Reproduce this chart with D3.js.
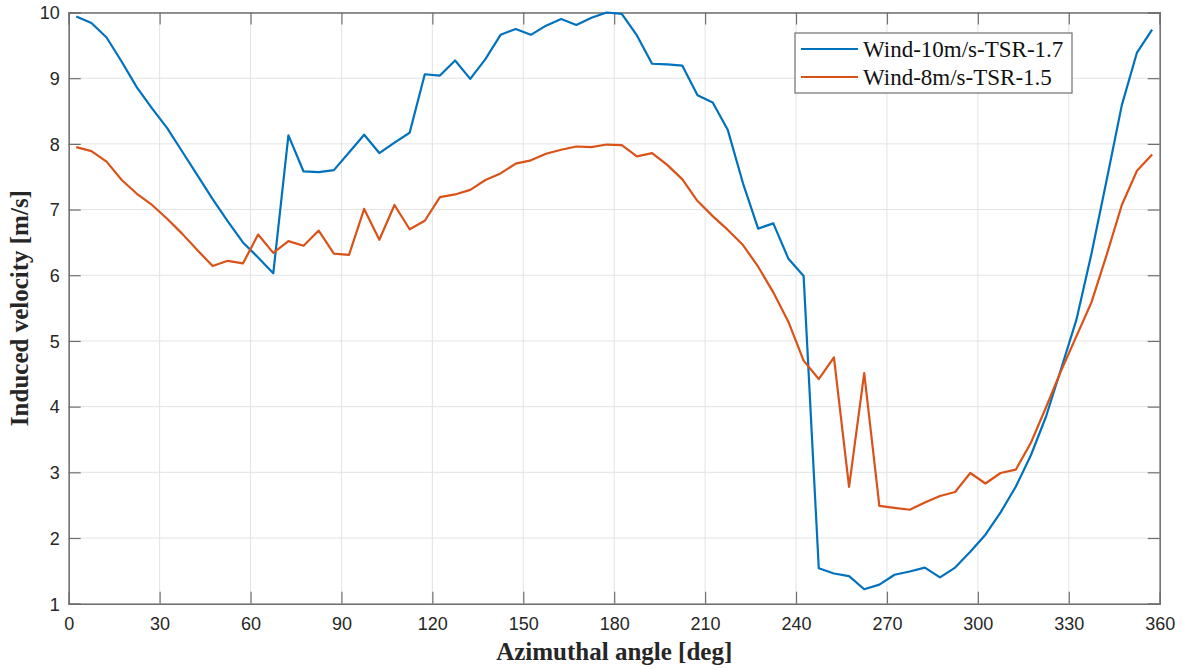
<!DOCTYPE html>
<html>
<head>
<meta charset="utf-8">
<title>Induced velocity</title>
<script src="https://d3js.org/d3.v7.min.js"></script>
<style type="text/css">
  body { margin: 0; background: white; }
  #chart { position: absolute; top: 0; left: 0; }
</style>
</head>
<body>
<div id="chart"></div>
<script type="text/javascript">

var angles = [2.5, 7.5, 12.5, 17.5, 22.5, 27.5, 32.5, 37.5, 42.5, 47.5, 52.5, 57.5,
              62.5, 67.5, 72.5, 77.5, 82.5, 87.5, 92.5, 97.5, 102.5, 107.5, 112.5, 117.5,
              122.5, 127.5, 132.5, 137.5, 142.5, 147.5, 152.5, 157.5, 162.5, 167.5, 172.5, 177.5,
              182.5, 187.5, 192.5, 197.5, 202.5, 207.5, 212.5, 217.5, 222.5, 227.5, 232.5, 237.5,
              242.5, 247.5, 252.5, 257.5, 262.5, 267.5, 272.5, 277.5, 282.5, 287.5, 292.5, 297.5,
              302.5, 307.5, 312.5, 317.5, 322.5, 327.5, 332.5, 337.5, 342.5, 347.5, 352.5, 357.5];

var wind10 = [9.94, 9.84, 9.62, 9.25, 8.86, 8.54, 8.24, 7.88, 7.52, 7.16, 6.82, 6.50,
              6.27, 6.03, 8.13, 7.58, 7.57, 7.60, 7.87, 8.14, 7.86, 8.02, 8.17, 9.06,
              9.04, 9.27, 8.99, 9.29, 9.66, 9.75, 9.66, 9.80, 9.90, 9.81, 9.92, 10.0,
              9.98, 9.65, 9.22, 9.21, 9.19, 8.74, 8.63, 8.21, 7.40, 6.71, 6.79, 6.25,
              5.99, 1.54, 1.46, 1.42, 1.22, 1.29, 1.44, 1.49, 1.55, 1.40, 1.55, 1.79,
              2.05, 2.39, 2.78, 3.26, 3.85, 4.58, 5.32, 6.33, 7.45, 8.59, 9.39, 9.74];

var wind8 = [7.95, 7.89, 7.73, 7.45, 7.24, 7.07, 6.86, 6.63, 6.38, 6.14, 6.22, 6.18,
             6.62, 6.34, 6.52, 6.45, 6.68, 6.33, 6.31, 7.01, 6.54, 7.07, 6.70, 6.83,
             7.19, 7.23, 7.30, 7.45, 7.55, 7.70, 7.75, 7.85, 7.91, 7.96, 7.95, 7.99,
             7.98, 7.81, 7.86, 7.68, 7.46, 7.13, 6.90, 6.69, 6.46, 6.13, 5.74, 5.29,
             4.70, 4.42, 4.75, 2.78, 4.51, 2.49, 2.46, 2.43, 2.54, 2.64, 2.70, 2.99,
             2.83, 2.99, 3.04, 3.45, 3.99, 4.55, 5.07, 5.59, 6.31, 7.07, 7.59, 7.84];

var seriesNames = ["Wind-10m/s-TSR-1.7", "Wind-8m/s-TSR-1.5"];
var seriesColors = ["#0072BD", "#D95319"];
var xTicks = [0, 30, 60, 90, 120, 150, 180, 210, 240, 270, 300, 330, 360];
var yTicks = [1, 2, 3, 4, 5, 6, 7, 8, 9, 10];

var width = 1183,
    height = 669;

var margin = {top: 12.5, right: 23.3, bottom: 65.3, left: 68.7};
var w = width - margin.left - margin.right,
    h = height - margin.top - margin.bottom;

var svg = d3.select("#chart")
            .append("svg")
            .attr("width", width)
            .attr("height", height);

var g = svg.append("g")
           .attr("transform", "translate(" + margin.left + "," + margin.top + ")");

var x = d3.scaleLinear().domain([0, 360]).range([0, w]);
var y = d3.scaleLinear().domain([1, 10]).range([h, 0]);

// grid
g.append("g").selectAll("line")
 .data(xTicks).enter().append("line")
 .attr("x1", function(d){ return x(d) }).attr("x2", function(d){ return x(d) })
 .attr("y1", 0).attr("y2", h)
 .attr("stroke", "#e3e3e3").attr("stroke-width", 1);

g.append("g").selectAll("line")
 .data(yTicks).enter().append("line")
 .attr("y1", function(d){ return y(d) }).attr("y2", function(d){ return y(d) })
 .attr("x1", 0).attr("x2", w)
 .attr("stroke", "#e3e3e3").attr("stroke-width", 1);

// axes, ticks pointing inward
var axisColor = "#707070";

var xAxis = g.append("g")
             .attr("transform", "translate(0," + h + ")")
             .call(d3.axisBottom(x).tickValues(xTicks).tickSize(-12).tickPadding(14));
var xTop = g.append("g")
            .call(d3.axisTop(x).tickValues(xTicks).tickSize(-12).tickFormat(""));
var yAxis = g.append("g")
             .call(d3.axisLeft(y).tickValues(yTicks).tickSize(-12).tickPadding(9));
var yRight = g.append("g")
              .attr("transform", "translate(" + w + ",0)")
              .call(d3.axisRight(y).tickValues(yTicks).tickSize(-12).tickFormat(""));

[xAxis, xTop, yAxis, yRight].forEach(function(a){
  a.select(".domain").attr("stroke", axisColor).attr("stroke-width", 1.5);
  a.selectAll(".tick line").attr("stroke", axisColor).attr("stroke-width", 1.2);
  a.selectAll("text")
   .attr("fill", "#262626")
   .style("font-family", "'Liberation Sans', Arial, sans-serif")
   .style("font-size", "18px");
});
xAxis.selectAll(".tick:first-of-type line, .tick:last-of-type line").attr("stroke", "none");
yAxis.selectAll(".tick text").attr("dy", "0.35em");

// lines
var line = d3.line()
             .x(function(d){ return x(d[0]) })
             .y(function(d){ return y(d[1]) });

var series = [wind10, wind8];
series.forEach(function(vals, i){
  g.append("path")
   .datum(angles.map(function(a, j){ return [a, vals[j]] }))
   .attr("fill", "none")
   .attr("stroke", seriesColors[i])
   .attr("stroke-width", 2.2)
   .attr("stroke-linejoin", "round")
   .attr("d", line);
});

// axis labels
svg.append("text")
   .attr("x", margin.left + w / 2)
   .attr("y", 660)
   .attr("text-anchor", "middle")
   .style("font-family", "'Liberation Serif', 'Times New Roman', serif")
   .style("font-weight", "bold")
   .style("font-size", "25px")
   .attr("fill", "#262626")
   .text("Azimuthal angle [deg]");

svg.append("text")
   .attr("transform", "translate(28," + (margin.top + h / 2) + ") rotate(-90)")
   .attr("text-anchor", "middle")
   .style("font-family", "'Liberation Serif', 'Times New Roman', serif")
   .style("font-weight", "bold")
   .style("font-size", "25px")
   .attr("fill", "#262626")
   .text("Induced velocity [m/s]");

// legend
var legend = svg.append("g").attr("transform", "translate(795,33)");
legend.append("rect")
      .attr("width", 277).attr("height", 60)
      .attr("fill", "white")
      .attr("stroke", axisColor).attr("stroke-width", 1.2);

seriesNames.forEach(function(name, i){
  var row = legend.append("g").attr("transform", "translate(0," + (16 + i * 28) + ")");
  row.append("line")
     .attr("x1", 6).attr("x2", 63)
     .attr("stroke", seriesColors[i]).attr("stroke-width", 2.2);
  row.append("text")
     .attr("x", 68).attr("y", 8)
     .style("font-family", "'Liberation Serif', 'Times New Roman', serif")
     .style("font-size", "23px")
     .attr("fill", "#111")
     .text(name);
});

</script>
</body>
</html>
